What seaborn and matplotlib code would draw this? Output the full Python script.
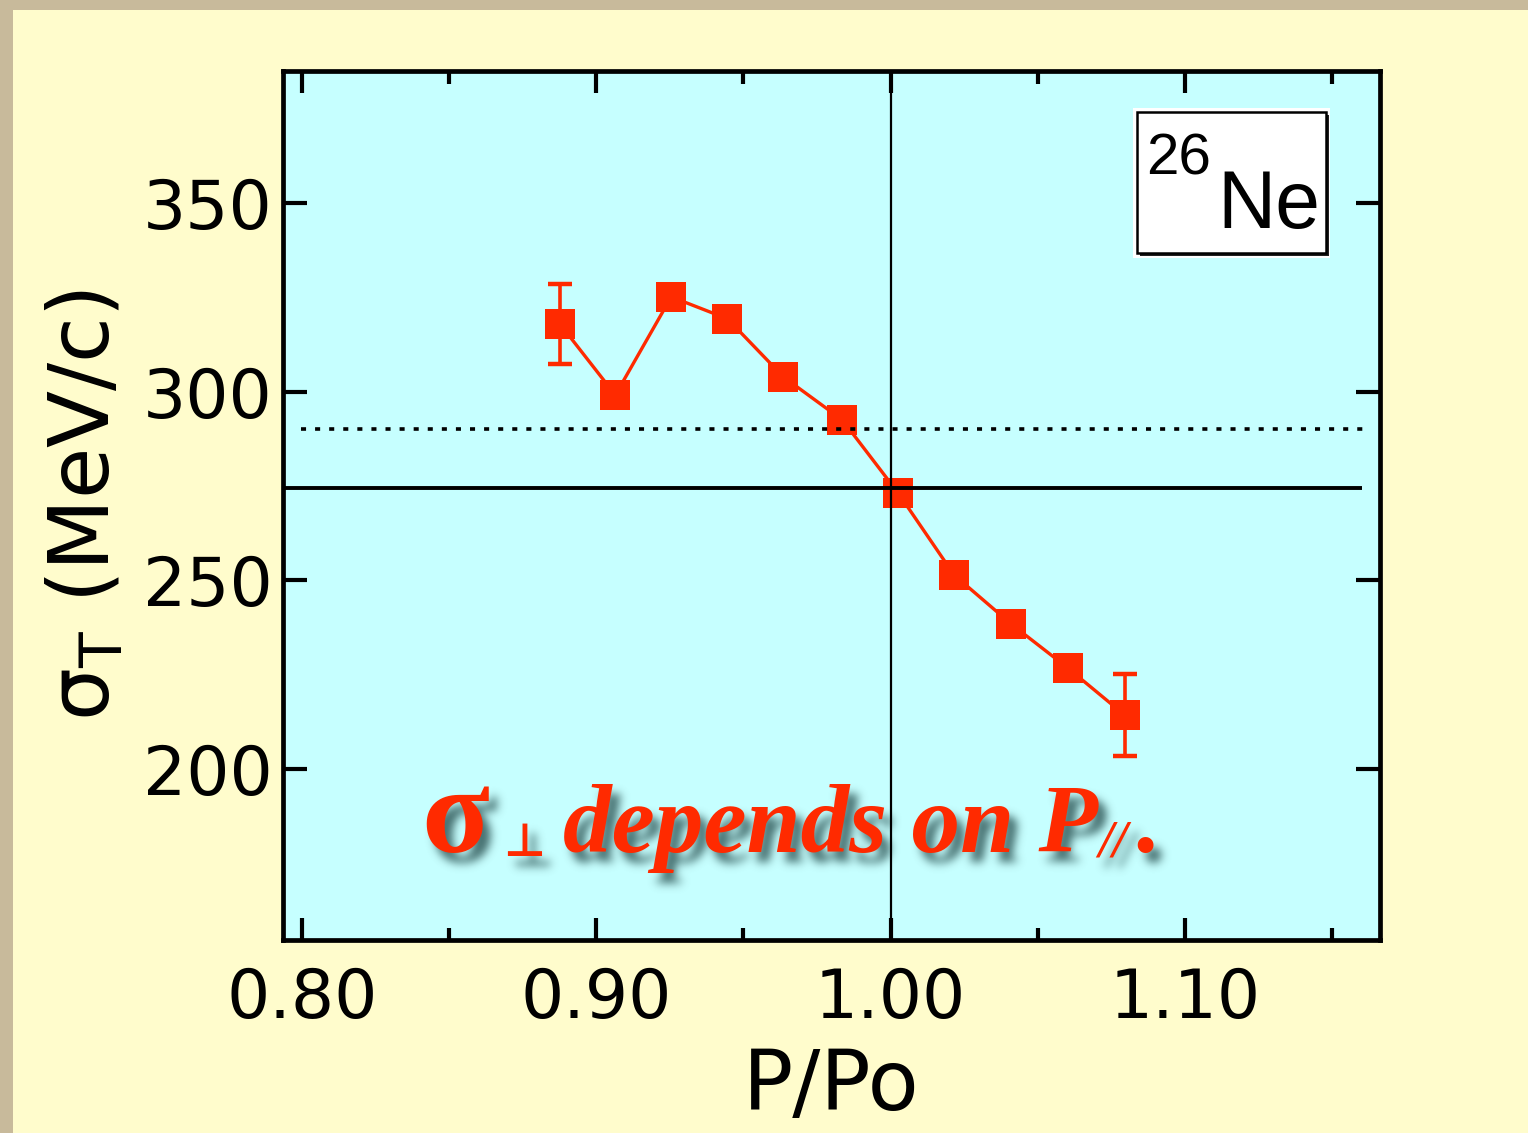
import numpy as np
import matplotlib
matplotlib.use("Agg")
import matplotlib.pyplot as plt
import seaborn as sns
from matplotlib.patches import Rectangle

# Transverse momentum width of 26Ne fragments versus P/Po
p_ratio = [0.8876, 0.9065, 0.9255, 0.9446, 0.9636, 0.9836,
           1.0026, 1.0216, 1.0410, 1.0603, 1.0795]
sigma_t = [318.0, 299.1, 325.1, 319.3, 303.9, 292.5,
           273.1, 251.4, 238.4, 226.7, 214.3]
sigma_err = [10.6, 0, 0, 0, 0, 0, 0, 0, 0, 0, 10.8]

dotted_level = 290.1
solid_level = 274.4
centre_ratio = 1.00

x_ticks = [0.80, 0.90, 1.00, 1.10]
x_ticklabels = ["0.80", "0.90", "1.00", "1.10"]
x_minor = [0.85, 0.95, 1.05, 1.15]
y_ticks = [200, 250, 300, 350]
y_ticklabels = ["200", "250", "300", "350"]

RED = "#FF2A00"
CYAN = "#C6FFFF"
CREAM = "#FFFCCC"
TAN = "#C8BA9B"

sns.set_style("ticks")
plt.rcParams["font.family"] = ["DejaVu Sans"]
for key in ("text.color", "axes.labelcolor", "xtick.color", "ytick.color",
            "xtick.labelcolor", "ytick.labelcolor"):
    plt.rcParams[key] = "black"

fig = plt.figure(figsize=(15.28, 11.33), dpi=100, facecolor=CREAM)
# tan frame strips along the left and top edges
fig.patches.append(Rectangle((0, 0), 13 / 1528, 1, transform=fig.transFigure,
                             facecolor=TAN, edgecolor="none", zorder=-5))
fig.patches.append(Rectangle((0, 1 - 10 / 1133), 1, 10 / 1133,
                             transform=fig.transFigure, facecolor=TAN,
                             edgecolor="none", zorder=-5))

ax = fig.add_axes([283 / 1528, 1 - 939.5 / 1133,
                   (1379.5 - 283) / 1528, (939.5 - 70.5) / 1133])
ax.set_facecolor(CYAN)

# data line with square markers
sns.lineplot(x=p_ratio, y=sigma_t, ax=ax, color=RED, linewidth=2.4,
             marker="s", markersize=21, markeredgewidth=0,
             markerfacecolor=RED, zorder=3)

# error bars on the end points
idx = [i for i, e in enumerate(sigma_err) if e > 0]
ax.errorbar([p_ratio[i] for i in idx], [sigma_t[i] for i in idx],
            yerr=[sigma_err[i] for i in idx], fmt="none", ecolor=RED,
            elinewidth=2.6, capsize=8.5, capthick=3.2, zorder=3)

# reference lines
ax.hlines(dotted_level, 0.7997, 1.1608, colors="black", linewidth=2.6,
          linestyles=(0, (1.4, 2.5)), zorder=4)
ax.hlines(solid_level, 0.7936, 1.1603, colors="black", linewidth=2.8,
          zorder=4)
ax.axvline(centre_ratio, color="black", linewidth=1.6, zorder=6)

ax.set_xlim(0.7936, 1.1661)
ax.set_ylim(154.8, 385.1)
ax.set_xticks(x_ticks)
ax.set_xticklabels(x_ticklabels)
ax.set_xticks(x_minor, minor=True)
ax.set_yticks(y_ticks)
ax.set_yticklabels(y_ticklabels)

for s in ax.spines.values():
    s.set_linewidth(3.4)
    s.set_color("black")
    s.set_zorder(7)

ax.tick_params(axis="both", which="both", direction="in", top=True,
               right=True, width=3, color="black", labelcolor="black",
               labelsize=49)
ax.tick_params(axis="x", which="major", length=16, pad=19)
ax.tick_params(axis="x", which="minor", length=9)
ax.tick_params(axis="y", which="major", length=17, pad=7.5)
ax.tick_params(axis="y", which="minor", length=0)

ax.set_xlabel("P/Po", fontsize=60, labelpad=10, color="black")
ax.set_ylabel(r"$\mathrm{\sigma_T}$ (MeV/c)", fontsize=60, labelpad=12,
              color="black", math_fontfamily="dejavusans")

# nucleus label box
bx0, bx1 = 0.7788, 0.9512
by0, by1 = 0.7900, 0.9522
ax.add_patch(Rectangle((bx0 - 0.004, by0 - 0.006), bx1 - bx0 + 0.008,
                       by1 - by0 + 0.011, transform=ax.transAxes,
                       facecolor="white", edgecolor="none", zorder=8))
ax.add_patch(Rectangle((bx0 + 0.0027, by0 - 0.0035), bx1 - bx0, by1 - by0,
                       transform=ax.transAxes, facecolor="#222222",
                       edgecolor="none", zorder=8))
ax.add_patch(Rectangle((bx0, by0), bx1 - bx0, by1 - by0,
                       transform=ax.transAxes, facecolor="white",
                       edgecolor="black", linewidth=1.8, zorder=9))
ax.text(0.7875, 0.880, "26", transform=ax.transAxes, fontsize=42,
        family="Liberation Sans", ha="left", va="baseline", color="black",
        zorder=10)
ax.text(0.852, 0.8188, "Ne", transform=ax.transAxes, fontsize=58,
        family="Liberation Sans", ha="left", va="baseline", color="black",
        zorder=10)


def _blur(a, sigma):
    r = int(3 * sigma)
    k = np.exp(-0.5 * (np.arange(-r, r + 1) / sigma) ** 2)
    k /= k.sum()
    a = np.apply_along_axis(lambda v: np.convolve(v, k, mode="same"), 0, a)
    a = np.apply_along_axis(lambda v: np.convolve(v, k, mode="same"), 1, a)
    return a


SHADOW_RGB = np.array([0.18, 0.33, 0.33])


def with_drop_shadow(im, dpi):
    """Composite the rendered glyphs over a blurred, offset copy."""
    pad = 30
    src = np.pad(im, ((pad, pad), (pad, pad), (0, 0)))
    sa = src[..., 3]
    ha = _blur(sa, 4.5)
    ha = np.roll(ha, 8, axis=1)
    ha = np.roll(ha, 10, axis=0)
    ha = np.clip(ha * 0.85, 0, 1)
    out_a = sa + ha * (1 - sa)
    out = np.zeros_like(src)
    num = src[..., :3] * sa[..., None] + SHADOW_RGB * (ha * (1 - sa))[..., None]
    safe = np.where(out_a > 0, out_a, 1)[..., None]
    out[..., :3] = num / safe
    out[..., 3] = out_a
    return out, -pad, -pad


def px_to_ratio(px):
    return 0.80 + (px - 301.7) / 2944.0


def shadowed_text(px, y, s, **kw):
    t = ax.text(px_to_ratio(px), y, s, color=RED, zorder=5, va="baseline", **kw)
    t.set_agg_filter(with_drop_shadow)
    t.set_rasterized(True)
    return t


# annotation: sigma_perp depends on P_parallel
base = 178.0
serif_bi = dict(family="Liberation Serif", style="italic", weight="bold")
shadowed_text(421, base, "σ", fontsize=90, family="Liberation Serif",
              weight="bold", ha="left")
shadowed_text(524, base - 1.2, "⊥", fontsize=33, family="DejaVu Sans",
              weight="bold", ha="center")
shadowed_text(563, base, "depends on P", fontsize=70, ha="left", **serif_bi)
shadowed_text(1098, base - 1.2, "//", fontsize=38, ha="left", **serif_bi)
shadowed_text(1136, base, ".", fontsize=70, ha="left", **serif_bi)

fig.savefig("out.png", dpi=100, facecolor=fig.get_facecolor())
